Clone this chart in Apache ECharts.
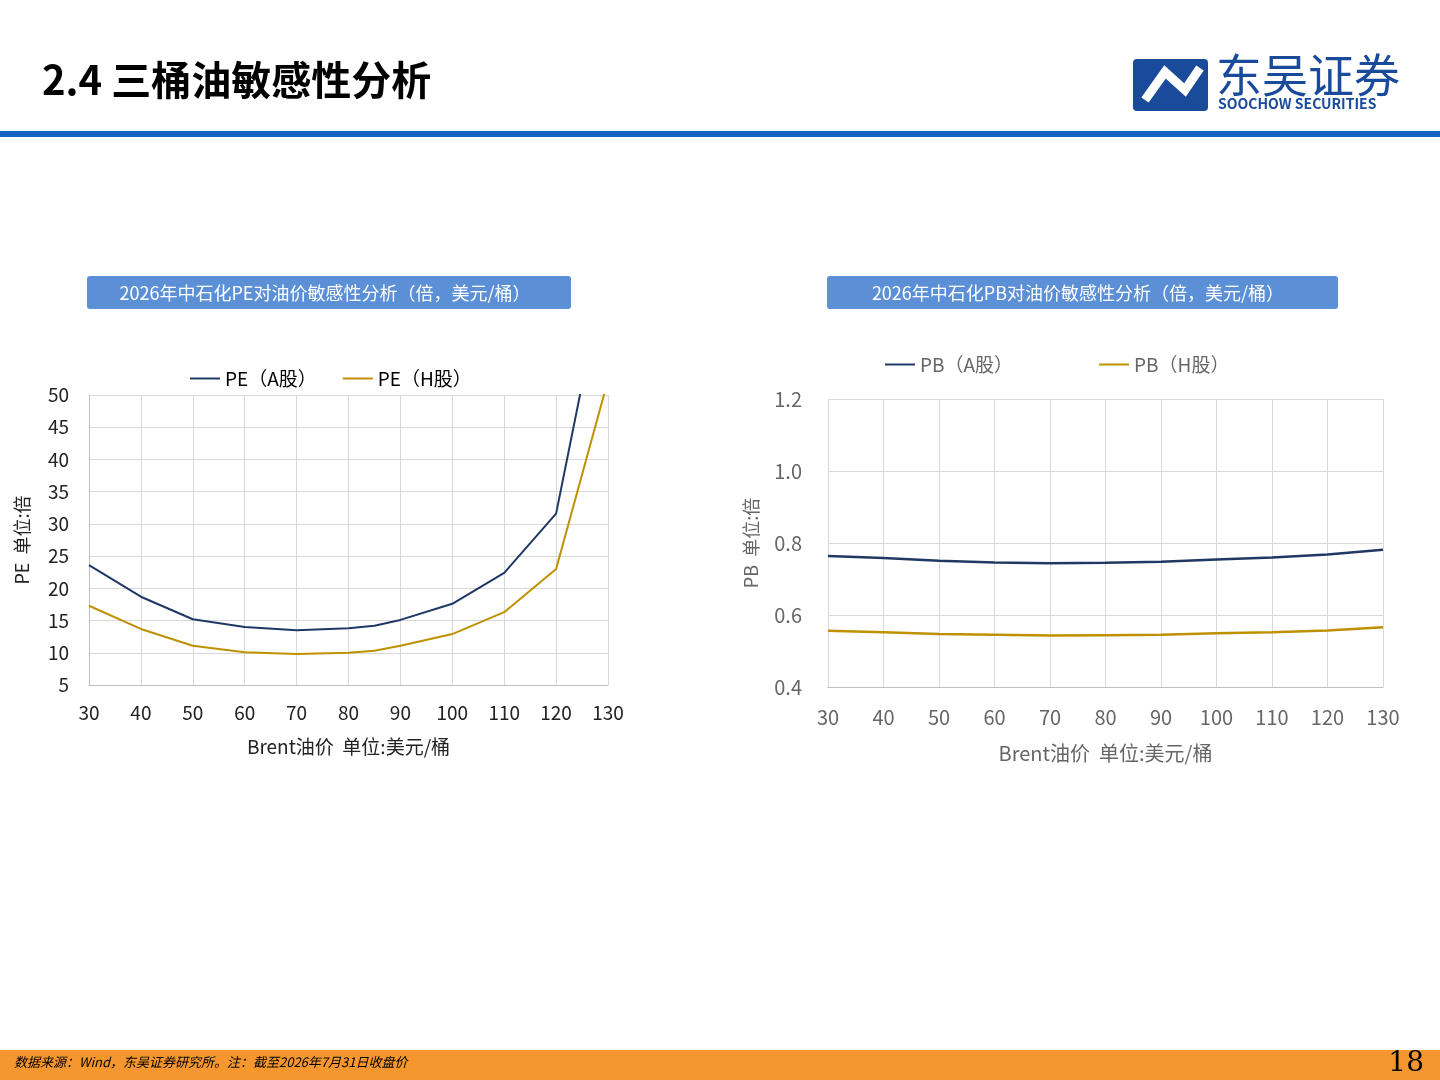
<!DOCTYPE html><html><head><meta charset="utf-8"><script src="https://cdn.jsdelivr.net/npm/echarts@6/dist/echarts.min.js"></script>
<style>body{margin:0}#c{width:1440px;height:1080px}</style></head><body><div id="c"></div><script>
const peX=[30,40,50,60,70,80,85,90,100,110,120,130];
const peA=[23.6,18.7,15.2,14.0,13.5,13.8,14.2,15.1,17.6,22.4,31.6,71.6];
const peH=[17.3,13.7,11.1,10.1,9.8,10.0,10.3,11.1,12.9,16.3,23.0,52.3];
const pbX=[30,40,50,60,70,80,90,100,110,120,130];
const pbA=[0.764,0.758,0.751,0.746,0.744,0.745,0.748,0.754,0.760,0.768,0.781];
const pbH=[0.556,0.552,0.547,0.545,0.543,0.544,0.545,0.549,0.552,0.557,0.566];
const F='"Noto Sans CJK SC","Noto Sans",sans-serif';
const navy='#1f3864',gold='#bf9000';
const ch=echarts.init(document.getElementById('c'));
const pair=(x,y)=>x.map((v,i)=>[v,y[i]]);
const xAx=(gi,col,fs)=>({type:'value',gridIndex:gi,min:30,max:130,interval:10,
 axisLine:{show:true,lineStyle:{color:'#bfbfbf'}},axisTick:{show:false},
 splitLine:{show:true,lineStyle:{color:'#d9d9d9'}},axisLabel:{color:col,fontSize:fs,fontFamily:F,margin:gi?20:18},
 name:'Brent油价  单位:美元/桶',nameLocation:'middle',nameGap:gi?56:52,nameTextStyle:{color:col,fontSize:fs,fontFamily:F}});
ch.setOption({
 animation:false,
 textStyle:{fontFamily:F},
 graphic:[
  {type:'text',left:42,top:60,style:{text:'2.4 三桶油敏感性分析',font:'bold 40px '+F,fill:'#000'}},
  {type:'rect',shape:{x:0,y:131,width:1440,height:6},style:{fill:'#1565c0'}},
  {type:'rect',shape:{x:1133,y:59,width:75,height:52,r:4},style:{fill:'#1a4a9a'}},
  {type:'polyline',shape:{points:[[1145,100],[1165,72],[1185,90],[1200,68]]},style:{stroke:'#fff',lineWidth:9,fill:null}},
  {type:'text',left:1216,top:52,style:{text:'东吴证券',font:'46px '+F,fill:'#1a4a9a'}},
  {type:'text',left:1218,top:97,style:{text:'SOOCHOW SECURITIES',font:'bold 14px '+F,fill:'#1a4a9a'}},
  {type:'rect',shape:{x:87,y:276,width:484,height:33,r:3},style:{fill:'#5b8fd6'}},
  {type:'text',x:325,y:293,style:{text:'2026年中石化PE对油价敏感性分析（倍，美元/桶）',font:'18px '+F,fill:'#fff',align:'center',verticalAlign:'middle'}},
  {type:'rect',shape:{x:827,y:276,width:511,height:33,r:3},style:{fill:'#5b8fd6'}},
  {type:'text',x:1078,y:293,style:{text:'2026年中石化PB对油价敏感性分析（倍，美元/桶）',font:'18px '+F,fill:'#fff',align:'center',verticalAlign:'middle'}},
  {type:'rect',shape:{x:0,y:1050,width:1440,height:30},style:{fill:'#f5962e'}},
  {type:'text',left:14,top:1056,style:{text:'数据来源：Wind，东吴证券研究所。注：截至2026年7月31日收盘价',font:'italic 13px '+F,fill:'#000'}},
  {type:'text',right:16,top:1050,style:{text:'18',font:'28px "DejaVu Serif",serif',fill:'#000'}}
 ],
 legend:[
  {top:364,left:185,itemGap:26,itemWidth:30,itemHeight:2,icon:'rect',textStyle:{fontSize:19,color:'#000'},data:['PE（A股）','PE（H股）']},
  {top:350,left:880,itemGap:86,itemWidth:30,itemHeight:2,icon:'rect',textStyle:{fontSize:19,color:'#666'},data:['PB（A股）','PB（H股）']}
 ],
 grid:[{left:89,top:395,width:519,height:290},{left:828,top:399,width:555,height:288}],
 xAxis:[xAx(0,'#222',19),xAx(1,'#666',20)],
 yAxis:[
  {type:'value',gridIndex:0,min:5,max:50,interval:5,axisTick:{show:false},axisLine:{show:true,lineStyle:{color:'#bfbfbf'}},splitLine:{lineStyle:{color:'#d9d9d9'}},
   axisLabel:{color:'#222',fontSize:19,margin:20},name:'PE  单位:倍',nameLocation:'middle',nameGap:58,nameTextStyle:{color:'#222',fontSize:18}},
  {type:'value',gridIndex:1,min:0.4,max:1.2,interval:0.2,axisTick:{show:false},axisLine:{show:false},splitLine:{lineStyle:{color:'#d9d9d9'}},
   axisLabel:{color:'#666',fontSize:20,margin:26,formatter:v=>v.toFixed(1)},name:'PB  单位:倍',nameLocation:'middle',nameGap:68,nameTextStyle:{color:'#666',fontSize:18}}
 ],
 series:[
  {name:'PE（A股）',type:'line',xAxisIndex:0,yAxisIndex:0,data:pair(peX,peA),showSymbol:false,clip:true,lineStyle:{color:navy,width:2},itemStyle:{color:navy}},
  {name:'PE（H股）',type:'line',xAxisIndex:0,yAxisIndex:0,data:pair(peX,peH),showSymbol:false,clip:true,lineStyle:{color:gold,width:2},itemStyle:{color:gold}},
  {name:'PB（A股）',type:'line',xAxisIndex:1,yAxisIndex:1,data:pair(pbX,pbA),showSymbol:false,lineStyle:{color:navy,width:2.5},itemStyle:{color:navy}},
  {name:'PB（H股）',type:'line',xAxisIndex:1,yAxisIndex:1,data:pair(pbX,pbH),showSymbol:false,lineStyle:{color:gold,width:2.5},itemStyle:{color:gold}}
 ]
});
</script></body></html>
